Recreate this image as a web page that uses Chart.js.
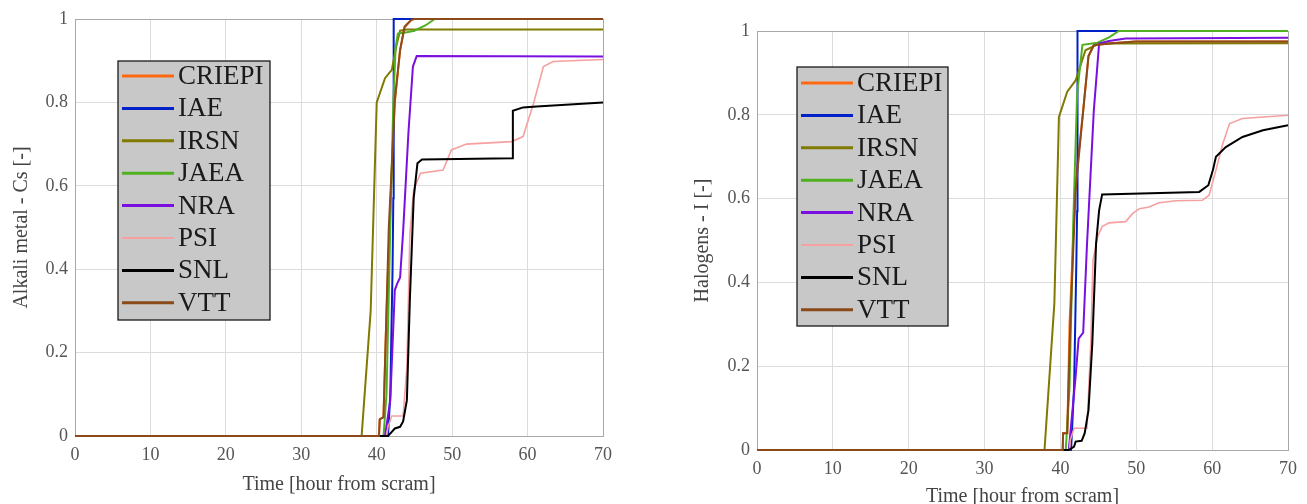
<!DOCTYPE html>
<html>
<head>
<meta charset="utf-8">
<script src="https://cdn.jsdelivr.net/npm/chart.js@4.4.1/dist/chart.umd.min.js"></script>
<style>
  html, body { margin: 0; padding: 0; background: #fff; overflow: hidden; }
  #left { position: absolute; left: 0; top: 0; }
  #right { position: absolute; left: 650px; top: 0; }
</style>
</head>
<body>
<canvas id="left" width="650" height="504"></canvas>
<canvas id="right" width="657" height="504"></canvas>
<script>
// Series labels and colours
const names = ['CRIEPI', 'IAE', 'IRSN', 'JAEA', 'NRA', 'PSI', 'SNL', 'VTT'];
const colors = ['#ff6a10', '#0020c8', '#807a00', '#50b020', '#7a10e0', '#f6a0a0', '#000000', '#8b4a1a'];

// Alkali metal - Cs  [time (h), fraction]
const csCRIEPI = [[0, 0], [40.3, 0], [40.4, 0.04], [40.9, 0.045], [41.3, 0.3], [42.0, 0.64], [42.4, 0.8], [43.1, 0.925], [43.7, 0.98], [44.6, 0.998], [45.0, 1.0], [70, 1.0]];
const csIAE = [[0, 0], [41.5, 0], [41.8, 0.1], [42.1, 0.4], [42.2, 0.57], [42.25, 1.0], [70, 1.0]];
const csIRSN = [[0, 0], [38.0, 0], [39.2, 0.3], [40.0, 0.8], [41.1, 0.858], [42.0, 0.878], [42.6, 0.935], [43.1, 0.972], [44.0, 0.975], [70, 0.975]];
const csJAEA = [[0, 0], [40.9, 0], [41.3, 0.1], [41.8, 0.5], [42.2, 0.8], [42.5, 0.93], [42.8, 0.965], [44.0, 0.968], [45.0, 0.972], [46.5, 0.985], [47.7, 1.0], [70, 1.0]];
const csNRA = [[0, 0], [41.1, 0], [41.8, 0.086], [42.4, 0.35], [42.7, 0.365], [43.1, 0.38], [43.5, 0.49], [44.2, 0.726], [44.8, 0.886], [45.3, 0.911], [70, 0.91]];
const csPSI = [[0, 0], [41.3, 0], [41.5, 0.022], [42.0, 0.048], [43.5, 0.048], [44.0, 0.166], [44.4, 0.486], [44.9, 0.59], [45.8, 0.63], [48.8, 0.638], [49.9, 0.686], [51.9, 0.70], [57.9, 0.706], [59.4, 0.718], [60.8, 0.798], [62.1, 0.886], [63.4, 0.898], [70, 0.903]];
const csSNL = [[0, 0], [41.5, 0], [42.0, 0.01], [42.4, 0.018], [43.1, 0.022], [43.5, 0.035], [44.0, 0.086], [44.4, 0.33], [44.9, 0.57], [45.4, 0.654], [46.0, 0.663], [58.0, 0.666], [58.05, 0.78], [59.4, 0.788], [61.2, 0.79], [70, 0.80]];
const csVTT = [[0, 0], [40.3, 0], [40.4, 0.04], [40.9, 0.045], [41.3, 0.3], [41.6, 0.5], [42.0, 0.646], [42.4, 0.806], [43.1, 0.926], [43.7, 0.982], [44.6, 0.998], [45.0, 1.0], [70, 1.0]];

// Halogens - I  [time (h), fraction]
const iCRIEPI = [[0, 0], [40.3, 0], [40.35, 0.04], [40.9, 0.04], [41.2, 0.3], [42.0, 0.64], [43.0, 0.81], [43.7, 0.94], [44.4, 0.966], [46.4, 0.97], [49.9, 0.975], [70, 0.975]];
const iIAE = [[0, 0], [41.4, 0], [41.8, 0.15], [42.1, 0.45], [42.2, 0.57], [42.25, 1.0], [70, 1.0]];
const iIRSN = [[0, 0], [37.9, 0], [39.2, 0.35], [39.8, 0.795], [40.9, 0.855], [42.0, 0.882], [43.3, 0.954], [45.1, 0.97], [70, 0.971]];
const iJAEA = [[0, 0], [40.7, 0], [41.2, 0.15], [41.7, 0.55], [42.2, 0.85], [42.9, 0.967], [44.9, 0.972], [46.4, 0.985], [47.7, 1.0], [70, 1.0]];
const iNRA = [[0, 0], [41.1, 0], [42.0, 0.175], [42.4, 0.266], [43.0, 0.28], [43.5, 0.49], [44.4, 0.81], [45.1, 0.97], [46.4, 0.976], [48.6, 0.982], [70, 0.984]];
const iPSI = [[0, 0], [41.2, 0], [41.3, 0.024], [41.8, 0.052], [43.5, 0.052], [44.0, 0.254], [44.3, 0.453], [44.9, 0.509], [45.5, 0.533], [46.4, 0.542], [48.6, 0.545], [49.5, 0.564], [50.4, 0.576], [51.7, 0.58], [53.0, 0.59], [55.2, 0.595], [58.7, 0.596], [59.6, 0.608], [60.5, 0.668], [61.4, 0.731], [62.3, 0.779], [64.0, 0.791], [70, 0.799]];
const iSNL = [[0, 0], [41.1, 0], [41.8, 0.008], [42.0, 0.02], [42.8, 0.022], [43.2, 0.04], [43.7, 0.095], [44.2, 0.254], [44.7, 0.493], [45.1, 0.572], [45.5, 0.61], [58.3, 0.616], [59.5, 0.632], [60.1, 0.668], [60.5, 0.7], [61.8, 0.723], [64.0, 0.747], [66.7, 0.763], [70, 0.775]];
const iVTT = [[0, 0], [40.3, 0], [40.35, 0.04], [40.9, 0.04], [41.3, 0.3], [42.0, 0.62], [43.0, 0.81], [43.7, 0.94], [44.4, 0.966], [46.4, 0.97], [49.9, 0.975], [70, 0.975]];

const csSeries = [csCRIEPI, csIAE, csIRSN, csJAEA, csNRA, csPSI, csSNL, csVTT];
const iSeries = [iCRIEPI, iIAE, iIRSN, iJAEA, iNRA, iPSI, iSNL, iVTT];

const serif = "'Liberation Serif', 'Times New Roman', serif";

// gray boxed legend drawn inside the plot, like the matlab one
const boxLegend = {
    id: 'boxLegend',
    afterDraw(chart, args, opts) {
        const ctx = chart.ctx;
        ctx.save();
        ctx.fillStyle = '#c8c8c8';
        ctx.fillRect(opts.left, opts.top, opts.width, opts.height);
        ctx.strokeStyle = '#1a1a1a';
        ctx.lineWidth = 1.3;
        ctx.strokeRect(opts.left, opts.top, opts.width, opts.height);
        ctx.font = '27px ' + serif;
        ctx.textBaseline = 'middle';
        chart.data.datasets.forEach((ds, i) => {
            const y = opts.top + opts.firstRow + i * opts.rowGap;
            ctx.strokeStyle = ds.borderColor;
            ctx.lineWidth = ds.label === 'PSI' ? 2 : 3;
            ctx.beginPath();
            ctx.moveTo(opts.left + 4, y);
            ctx.lineTo(opts.left + 56, y);
            ctx.stroke();
            ctx.fillStyle = '#1a1a1a';
            ctx.fillText(ds.label, opts.left + 60, y + 1);
        });
        ctx.restore();
    }
};

function makeChart(id, series, yTitle, geo) {
    const datasets = series.map((pts, i) => ({
        label: names[i],
        data: pts,
        borderColor: colors[i],
        borderWidth: names[i] === 'PSI' ? 1.6 : 2,
        pointRadius: 0,
        tension: 0,
        clip: 4,
        order: names.length - i
    }));

    return new Chart(document.getElementById(id), {
        type: 'line',
        data: { datasets: datasets },
        plugins: [boxLegend],
        options: {
            responsive: false,
            animation: false,
            layout: { padding: { left: 0, top: geo.top, right: geo.right, bottom: 0 } },
            scales: {
                x: {
                    type: 'linear',
                    min: 0,
                    max: 70,
                    ticks: { stepSize: 10, padding: 8, color: '#555', font: { family: serif, size: 18 } },
                    grid: {
                        drawTicks: false,
                        color: (c) => c.tick && c.tick.value === 70 ? '#a8a8a8' : '#dcdcdc'
                    },
                    border: { color: '#a8a8a8' },
                    title: {
                        display: true,
                        text: 'Time [hour from scram]',
                        color: '#444',
                        font: { family: serif, size: 20 },
                        padding: { top: 0, bottom: geo.xTitlePad }
                    },
                    afterFit: (scale) => { scale.height = geo.xAxisH; }
                },
                y: {
                    min: 0,
                    max: 1,
                    ticks: {
                        stepSize: 0.2, padding: 7, color: '#555', font: { family: serif, size: 18 },
                        callback: (v) => String(Math.round(v * 10) / 10)
                    },
                    grid: {
                        drawTicks: false,
                        color: (c) => c.tick && c.tick.value === 1 ? '#a8a8a8' : '#dcdcdc'
                    },
                    border: { color: '#a8a8a8' },
                    title: {
                        display: true,
                        text: yTitle,
                        color: '#444',
                        font: { family: serif, size: 20 },
                        padding: { top: geo.yTitlePad, bottom: 0 }
                    },
                    afterFit: (scale) => { scale.width = geo.yAxisW; }
                }
            },
            plugins: {
                legend: { display: false },
                tooltip: { enabled: false },
                boxLegend: geo.legend
            }
        }
    });
}

makeChart('left', csSeries, 'Alkali metal - Cs [-]', {
    top: 19, right: 47, xAxisH: 68, yAxisW: 75, xTitlePad: 7, yTitlePad: 10,
    legend: { left: 118, top: 61, width: 152, height: 259, firstRow: 15, rowGap: 32.4 }
});

makeChart('right', iSeries, 'Halogens - I [-]', {
    top: 31, right: 19, xAxisH: 54, yAxisW: 107, xTitlePad: -5, yTitlePad: 41,
    legend: { left: 147, top: 67, width: 151, height: 259, firstRow: 16, rowGap: 32.4 }
});
</script>
</body>
</html>
